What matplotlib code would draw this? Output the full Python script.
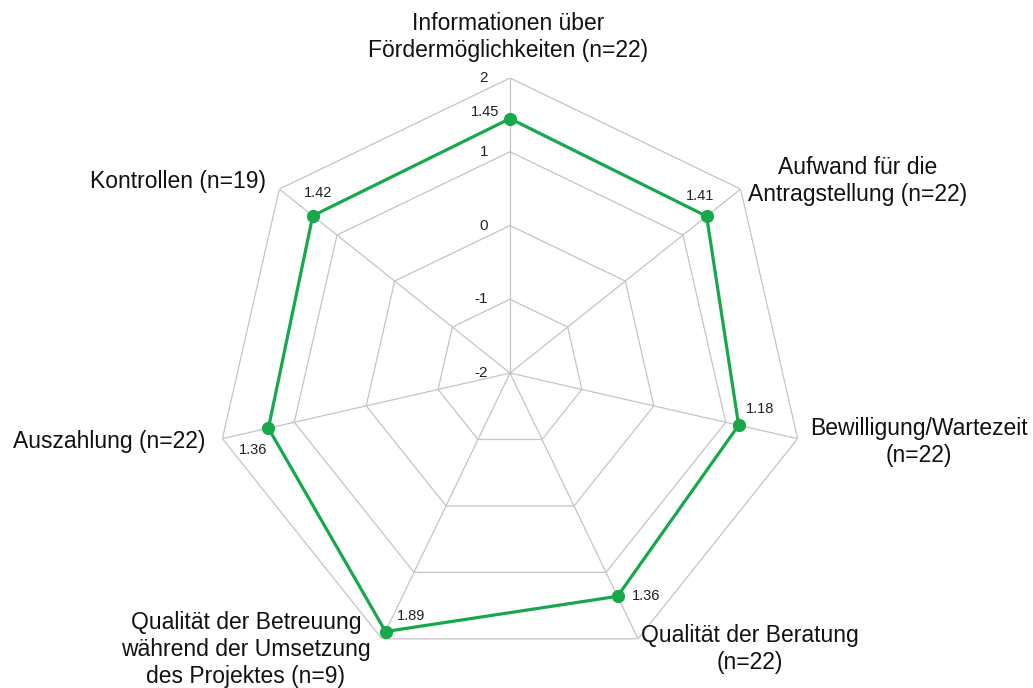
import numpy as np
import matplotlib.pyplot as plt

plt.rcParams['font.family'] = ['Liberation Sans', 'DejaVu Sans']

# Kategorien im Uhrzeigersinn ab oben
kategorien = [
    'Informationen über\nFördermöglichkeiten (n=22)',
    'Aufwand für die\nAntragstellung (n=22)',
    'Bewilligung/Wartezeit\n(n=22)',
    'Qualität der Beratung\n(n=22)',
    'Qualität der Betreuung\nwährend der Umsetzung\ndes Projektes (n=9)',
    'Auszahlung (n=22)',
    'Kontrollen (n=19)',
]
werte = [1.45, 1.41, 1.18, 1.36, 1.89, 1.36, 1.42]
ringe = [-1, 0, 1, 2]
skala = [2, 1, 0, -1, -2]

# Versatz der Beschriftungen in Pixeln
kat_offset = [(-2, 41), (117, 8), (121, -3), (112, -10), (-136, -11), (-113, -3), (-101, 8)]
wert_offset = [(-25, 7), (-7, 20), (21, 16), (29, 0), (26, 16), (-15, -22), (5, 23)]

gruen = '#16a84a'
grau = '#c4c4c4'

n = len(kategorien)
winkel = np.linspace(0, 2 * np.pi, n, endpoint=False)
winkel_zu = np.append(winkel, winkel[0])

fig = plt.figure(figsize=(10.33, 6.88), dpi=100)
ax = fig.add_axes([0.2081, 0.029, 0.5712, 0.8576], projection='polar')
ax.set_theta_offset(np.pi / 2)
ax.set_theta_direction(-1)
ax.set_ylim(-2, 2)
ax.axis('off')

# Netz: Polygone und Speichen
for r in ringe:
    ax.plot(winkel_zu, [r] * (n + 1), color=grau, lw=0.9, zorder=1)
for w in winkel:
    ax.plot([w, w], [-2, 2], color=grau, lw=0.9, zorder=1)

# Skala an der oberen Achse
for s in skala:
    ax.annotate(str(s), (0, s), xytext=(-22, 0), textcoords='offset pixels',
                ha='right', va='center', fontsize=11, color='#222222')

# Datenreihe
ax.plot(winkel_zu, np.append(werte, werte[0]), color=gruen, lw=2.3, zorder=3)
ax.plot(winkel, werte, 'o', color=gruen, ms=8.5, zorder=4)

for w, v, off in zip(winkel, werte, wert_offset):
    ax.annotate(f'{v:.2f}', (w, v), xytext=off, textcoords='offset pixels',
                ha='center', va='center', fontsize=10.5, color='#222222')

for w, k, off in zip(winkel, kategorien, kat_offset):
    ax.annotate(k, (w, 2), xytext=off, textcoords='offset pixels',
                ha='center', va='center', fontsize=16.5, color='#111111',
                linespacing=1.22, annotation_clip=False)

fig.savefig('out.png', dpi=100, facecolor='white')
